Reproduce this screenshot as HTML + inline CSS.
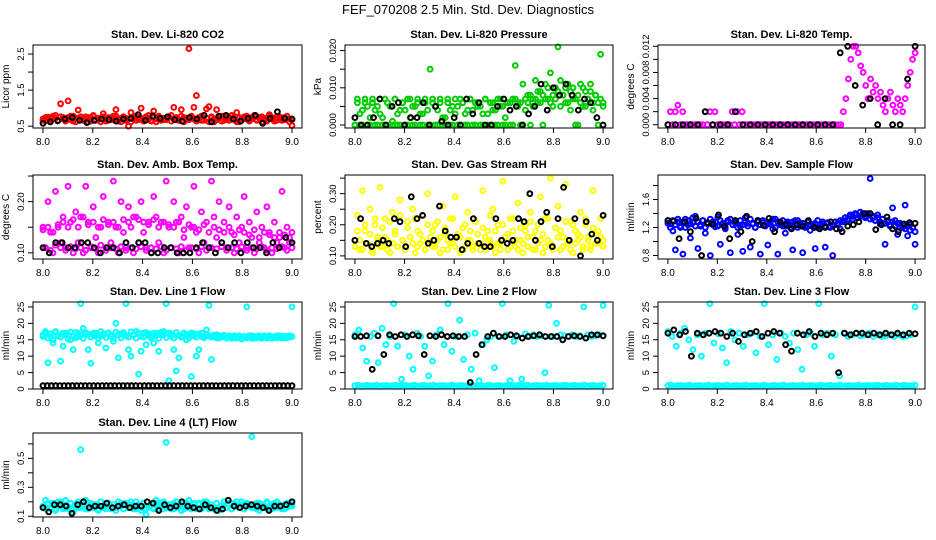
<!DOCTYPE html>
<html><head><meta charset="utf-8"><style>
html,body{margin:0;padding:0;background:#fff;}
svg{display:block;font-family:"Liberation Sans",sans-serif;}
</style></head><body>
<svg id="chart" width="936" height="540" viewBox="0 0 936 540">
<text x="468" y="14" text-anchor="middle" font-size="13">FEF_070208  2.5 Min. Std. Dev. Diagnostics</text>
</svg>
<script>
const xTicks = [8.0, 8.2, 8.4, 8.6, 8.8, 9.0];
const xTickLabels = ["8.0", "8.2", "8.4", "8.6", "8.8", "9.0"];

const co2Color = [0.70,0.65,0.75,0.68,0.72,0.80,0.66,1.12,0.74,0.70,1.20,0.78,0.64,0.72,0.95,0.70,0.68,0.76,0.62,0.74,0.80,0.66,0.72,0.70,0.85,0.64,0.74,0.68,0.78,0.96,0.70,0.62,0.76,0.72,0.50,0.88,0.70,0.66,0.74,1.00,0.68,0.72,0.80,0.64,0.92,0.70,0.76,0.66,0.72,0.68,0.74,0.80,1.02,0.70,0.66,0.96,0.74,0.72,2.65,0.78,1.02,1.35,0.70,0.66,0.80,0.98,1.04,0.74,0.62,0.96,0.72,0.78,0.66,0.70,0.74,0.80,0.68,0.88,0.62,0.72,0.76,0.70,0.66,0.74,0.80,0.68,0.72,0.76,0.70,0.64,0.82,0.74,0.70,0.66,0.76,0.72,0.68,0.78,0.70,0.52];
const co2Band = [0.66,0.74,0.70,0.62,0.78,0.72,0.66,0.76,0.70,0.64,0.74,0.68,0.78,0.62,0.72,0.76,0.66,0.70,0.74,0.64,0.78,0.68,0.72,0.62,0.76,0.70,0.66,0.74,0.68,0.78,0.64,0.72,0.76,0.66,0.70,0.62,0.74,0.78,0.68,0.72,0.64,0.76,0.70,0.66,0.74,0.62,0.78,0.70,0.68,0.72,0.76,0.64,0.70,0.74,0.66,0.78,0.62,0.72,0.68,0.76,0.70,0.64,0.74,0.78,0.66,0.72,0.62,0.76,0.70,0.68,0.74,0.64,0.78,0.72,0.66,0.70,0.76,0.62,0.74,0.68,0.72,0.78,0.64,0.70,0.76,0.66,0.74,0.62,0.72,0.68,0.78,0.70,0.64,0.76,0.72,0.66,0.74,0.70,0.62,0.68];
const co2Black = [0.58,0.62,0.65,0.70,0.74,0.66,0.60,0.66,0.70,0.68,0.64,0.70,0.72,0.82,0.66,0.78,0.72,0.76,0.68,0.64,0.74,0.70,0.80,0.62,0.78,0.80,0.70,0.64,0.72,0.80,0.58,0.72,0.90,0.72,0.70];

const presColor = [0,0.007,0,0.004,0.006,0,0.002,0.007,0,0.005,0.003,0,0.007,0.006,0,0.001,0.007,0,0.004,0.006,0,0.007,0.002,0,0.005,0.007,0,0.003,0.006,0,0.015,0.007,0,0.004,0.006,0,0.002,0.007,0,0.005,0.003,0,0.007,0.006,0,0.004,0.007,0,0.006,0.005,0,0.003,0.007,0,0.006,0.004,0,0.007,0.005,0,0.002,0.006,0,0.007,0.016,0.006,0,0.011,0.004,0.008,0,0.007,0.012,0.006,0.009,0,0.011,0.007,0.014,0.005,0.010,0.021,0.012,0.008,0.006,0.011,0.004,0.010,0.007,0,0.011,0.005,0.009,0.007,0.011,0.004,0.008,0.006,0.019,0.005];
const presBand = [0,0.006,0.003,0,0.007,0.005,0,0.006,0.004,0,0.007,0.002,0,0.006,0.005,0,0.007,0.003,0,0.006,0.004,0,0.007,0.005,0,0.006,0.003,0,0.007,0.004,0,0.006,0.005,0,0.007,0.002,0,0.006,0.004,0,0.007,0.005,0,0.006,0.003,0,0.007,0.004,0,0.006,0.005,0,0.007,0.003,0,0.006,0.004,0,0.007,0.005,0,0.006,0.006,0,0.007,0.005,0.006,0,0.007,0.006,0.008,0.005,0.007,0.009,0.006,0.008,0.007,0.010,0.006,0.008,0.007,0.009,0.005,0.008,0.010,0.006,0.009,0.007,0,0.008,0.006,0.010,0.005,0.007,0.009,0.006,0.008,0,0.007,0.006];
const presBlack = [0.002,0,0,0.002,0.007,0,0.005,0.006,0,0.002,0.002,0.006,0,0.005,0.001,0,0.002,0,0.007,0.003,0.006,0,0,0.005,0.007,0.004,0.005,0,0.003,0.005,0.011,0.004,0.010,0.008,0.011,0.008,0.004,0.007,0.006,0.002,0];

const tempColor = [0,0.002,0,0.002,0.003,0,0.002,0,0,0,0,0,0,0,0,0.002,0,0.002,0,0.002,0,0,0,0,0,0,0.002,0,0.002,0,0.002,0,0,0,0,0,0,0,0,0,0,0,0,0,0,0,0,0,0,0,0,0,0,0,0,0,0,0,0,0,0,0,0,0,0,0,0,0,0,0,0,0.002,0.004,0.007,0.010,0.012,0.012,0.011,0.009,0.008,0.006,0.004,0.007,0.005,0.006,0.004,0.005,0.003,0.002,0.004,0.005,0.003,0.002,0.004,0.003,0.002,0.004,0.006,0.008,0.010,0.011];
const tempBlack = [0,0,0,0,0,0.002,0,0,0,0.002,0,0,0,0,0,0,0,0,0,0,0,0,0,0.011,0.012,0.006,0.003,0.004,0,0.004,0,0,0.007,0.012];

const ambColor = [0.15,0.11,0.20,0.14,0.10,0.22,0.15,0.12,0.17,0.11,0.23,0.16,0.10,0.18,0.12,0.17,0.10,0.23,0.16,0.11,0.19,0.13,0.10,0.15,0.21,0.11,0.16,0.12,0.24,0.15,0.10,0.20,0.14,0.11,0.19,0.15,0.10,0.17,0.12,0.20,0.14,0.11,0.16,0.10,0.21,0.17,0.12,0.16,0.10,0.24,0.15,0.11,0.20,0.16,0.10,0.17,0.13,0.19,0.11,0.15,0.23,0.14,0.10,0.18,0.12,0.16,0.11,0.24,0.17,0.13,0.20,0.12,0.16,0.11,0.19,0.14,0.10,0.17,0.12,0.15,0.21,0.11,0.16,0.13,0.10,0.18,0.12,0.15,0.11,0.19,0.14,0.10,0.16,0.12,0.13,0.22,0.11,0.15,0.12,0.14];
const ambBand = [0.145,0.110,0.150,0.105,0.140,0.115,0.155,0.110,0.160,0.105,0.150,0.112,0.165,0.108,0.150,0.110,0.170,0.105,0.155,0.112,0.160,0.108,0.150,0.115,0.165,0.105,0.155,0.110,0.160,0.108,0.150,0.112,0.165,0.105,0.160,0.110,0.170,0.108,0.165,0.112,0.160,0.105,0.155,0.110,0.165,0.108,0.150,0.112,0.160,0.105,0.155,0.110,0.150,0.108,0.160,0.112,0.145,0.105,0.155,0.110,0.150,0.108,0.145,0.112,0.155,0.105,0.140,0.110,0.150,0.108,0.145,0.112,0.140,0.105,0.150,0.110,0.135,0.108,0.145,0.112,0.140,0.105,0.135,0.110,0.145,0.108,0.130,0.112,0.140,0.105,0.135,0.110,0.130,0.108,0.140,0.112,0.135,0.105,0.130,0.110];
const ambBlack = [0.11,0.10,0.12,0.12,0.11,0.11,0.12,0.12,0.11,0.10,0.11,0.11,0.10,0.12,0.11,0.12,0.12,0.10,0.10,0.11,0.11,0.10,0.10,0.10,0.11,0.12,0.11,0.10,0.12,0.11,0.12,0.10,0.12,0.11,0.11,0.10,0.12,0.11,0.13,0.12];

const rhColor = [0.15,0.23,0.12,0.31,0.18,0.14,0.25,0.11,0.20,0.16,0.32,0.13,0.22,0.15,0.11,0.24,0.17,0.13,0.28,0.15,0.12,0.21,0.16,0.25,0.11,0.18,0.14,0.23,0.12,0.30,0.16,0.13,0.20,0.15,0.11,0.26,0.17,0.12,0.22,0.14,0.29,0.16,0.11,0.19,0.13,0.24,0.15,0.12,0.21,0.17,0.14,0.31,0.12,0.18,0.15,0.25,0.11,0.20,0.14,0.34,0.16,0.12,0.22,0.18,0.13,0.27,0.15,0.11,0.20,0.16,0.24,0.12,0.18,0.14,0.29,0.11,0.22,0.15,0.35,0.13,0.19,0.26,0.12,0.16,0.33,0.14,0.21,0.11,0.18,0.15,0.24,0.12,0.20,0.16,0.13,0.31,0.17,0.14,0.22,0.15];
const rhBand = [0.13,0.18,0.15,0.12,0.20,0.14,0.17,0.12,0.22,0.15,0.13,0.19,0.16,0.12,0.21,0.14,0.18,0.13,0.23,0.15,0.12,0.19,0.16,0.14,0.22,0.13,0.17,0.15,0.12,0.20,0.14,0.18,0.13,0.21,0.16,0.12,0.19,0.15,0.14,0.22,0.13,0.17,0.16,0.12,0.20,0.15,0.18,0.13,0.21,0.14,0.12,0.19,0.16,0.15,0.23,0.13,0.18,0.14,0.12,0.20,0.16,0.17,0.13,0.22,0.15,0.12,0.19,0.14,0.18,0.13,0.21,0.16,0.12,0.20,0.15,0.17,0.13,0.22,0.14,0.12,0.19,0.16,0.18,0.13,0.21,0.15,0.12,0.20,0.14,0.17,0.16,0.13,0.22,0.15,0.12,0.19,0.14,0.18,0.16,0.13];
const rhBlack = [0.15,0.22,0.14,0.13,0.14,0.15,0.14,0.22,0.21,0.13,0.29,0.22,0.23,0.14,0.15,0.26,0.18,0.16,0.16,0.12,0.14,0.22,0.14,0.13,0.13,0.22,0.15,0.14,0.15,0.22,0.21,0.30,0.15,0.21,0.24,0.13,0.22,0.32,0.15,0.22,0.10,0.21,0.17,0.15,0.23];

const flowColor = [1.30,1.25,1.15,0.88,1.28,1.20,0.82,1.32,1.24,1.05,1.27,1.36,0.90,1.22,1.30,1.12,1.25,0.80,1.28,1.21,1.35,0.96,1.26,1.18,1.30,0.84,1.24,1.28,1.10,1.22,0.86,1.34,1.26,0.92,1.25,1.20,1.30,0.82,1.27,1.23,0.95,1.28,1.18,1.32,0.82,1.26,1.22,1.12,1.28,1.24,0.88,1.30,1.20,1.26,0.84,1.22,1.28,1.16,1.24,0.90,1.30,1.20,1.25,0.92,1.27,1.22,0.80,1.28,1.24,1.18,1.30,1.34,1.32,1.38,1.36,1.40,1.34,1.42,1.38,1.36,1.40,1.90,1.34,1.30,1.38,1.25,1.32,0.96,1.28,1.22,1.48,1.30,1.10,1.26,1.20,1.52,1.08,1.24,1.20,0.96];
const flowBand = [1.26,1.20,1.30,1.24,1.32,1.22,1.28,1.20,1.30,1.25,1.34,1.22,1.28,1.24,1.30,1.20,1.27,1.32,1.24,1.28,1.22,1.30,1.25,1.20,1.28,1.32,1.24,1.26,1.20,1.30,1.24,1.28,1.22,1.32,1.26,1.20,1.28,1.24,1.30,1.22,1.27,1.25,1.32,1.20,1.28,1.24,1.30,1.22,1.26,1.20,1.28,1.24,1.30,1.22,1.26,1.20,1.28,1.24,1.22,1.26,1.20,1.24,1.28,1.22,1.26,1.20,1.24,1.28,1.26,1.30,1.28,1.34,1.30,1.36,1.32,1.38,1.34,1.36,1.40,1.34,1.38,1.32,1.36,1.30,1.34,1.28,1.32,1.26,1.30,1.24,1.28,1.22,1.26,1.20,1.24,1.18,1.22,1.16,1.20,1.14];
const flowBlack = [1.30,1.29,1.04,1.28,1.14,1.33,0.80,1.27,1.25,1.38,1.22,1.04,1.30,1.14,1.36,1.00,1.30,1.23,1.33,1.14,1.28,1.24,1.18,1.24,1.22,1.30,1.20,1.18,1.20,1.28,1.18,1.14,1.22,1.24,1.28,1.40,1.40,1.17,1.24,1.35,1.18,1.14,1.25,1.27,1.26];

const line1Color = [16.5,17.0,8.0,16.0,14.0,17.5,16.2,8.5,13.0,17.0,16.5,15.0,12.0,17.2,16.0,26.0,18.5,16.8,12.0,7.8,16.5,17.0,14.0,16.2,16.8,12.5,17.0,16.5,14.5,20.0,9.5,16.8,17.2,26.0,12.0,10.0,16.5,17.5,4.5,11.5,17.0,13.5,16.8,16.2,14.0,17.0,11.5,16.5,17.5,26.0,2.5,16.8,12.0,5.5,9.5,16.0,17.0,15.0,16.5,3.8,16.8,10.0,12.0,17.0,16.0,18.0,25.5,9.0,16.0,16.5,15.5,16.0,16.2,15.5,16.0,15.8,16.2,15.5,16.0,15.2,16.0,25.0,15.8,16.2,15.5,16.0,15.8,15.5,16.2,15.8,16.0,15.5,15.8,16.2,15.8,16.0,15.6,16.0,15.8,25.0];
const line1Band = [16.0,17.5,15.5,16.8,15.0,17.2,16.2,15.8,17.0,16.5,15.2,17.4,16.0,15.6,17.0,16.4,15.4,17.2,16.6,15.8,17.0,16.2,15.5,17.5,16.4,15.7,17.1,16.0,15.4,17.3,16.5,15.6,17.0,16.2,15.8,17.4,16.6,15.5,17.0,16.0,15.8,17.2,16.4,15.6,17.0,16.2,15.4,17.3,16.5,15.7,17.0,16.1,15.5,17.2,16.3,15.8,17.0,16.6,15.6,17.1,16.2,15.8,16.8,16.0,15.6,16.6,16.2,15.8,16.4,15.6,16.2,15.8,16.4,15.6,16.2,15.4,16.0,15.6,16.2,15.4,16.0,15.6,16.2,15.4,16.0,15.6,16.2,15.4,16.0,15.6,16.2,15.4,16.0,15.6,16.2,15.5,16.0,15.6,16.2,16.0];
const line1Black = [1,1,1,1,1,1,1,1,1,1,1,1,1,1,1,1,1,1,1,1,1,1,1,1,1,1,1,1,1,1,1,1,1,1,1,1,1,1,1,1,1,1,1,1,1,1,1,1,1,1,1,1,1,1,1,1,1,1,1,1];

const line2Color = [16.5,18.0,12.5,8.5,16.0,17.0,8.0,18.5,13.5,16.0,26.0,13.0,3.0,16.5,10.0,6.0,17.0,16.0,13.0,4.0,8.5,16.5,18.0,13.5,26.0,11.5,16.0,21.0,9.0,16.5,6.0,17.0,2.5,13.5,15.0,16.0,6.5,16.0,26.0,16.5,2.5,14.5,16.0,3.0,16.8,16.0,16.5,16.0,16.2,5.0,25.5,16.0,20.0,16.5,16.2,16.0,16.5,16.0,16.2,25.0,16.5,16.0,16.2,16.5,25.5];
const line2Base = [1.0,1.2,0.8,1.0,1.1,0.9,1.0,1.2,0.8,1.0,1.1,0.9,1.0,1.2,0.8,1.0,1.1,0.9,1.0,1.2,0.8,1.0,1.1,0.9,1.0,1.2,0.8,1.0,1.1,0.9,1.0,1.2,0.8,1.0,1.1,0.9,1.0,1.2,0.8,1.0,1.1,0.9,1.0,1.2,0.8,1.0,1.1,0.9,1.0,1.2,0.8,1.0,1.1,0.9,1.0,1.2,0.8,1.0,1.1,0.9,1.0,1.2,0.8,1.0,1.1,0.9,1.0,1.2,0.8,1.0,1.1,0.9,1.0,1.2,0.8,1.0,1.1,0.9,1.0,1.2];
const line2Black = [16.0,16.0,16.2,6.0,16.2,10.5,16.5,16.0,16.5,16.0,16.5,16.2,10.5,16.2,16.0,16.5,16.0,16.2,16.0,16.0,2.0,10.5,13.5,16.0,17.0,16.0,16.0,16.5,16.2,15.5,16.0,16.2,16.5,16.0,16.0,16.0,15.0,16.0,16.2,16.0,15.5,16.5,16.5,16.2];

const line3Color = [17.5,16.0,13.0,17.0,18.5,15.0,12.0,16.5,10.0,17.0,26.0,14.0,16.8,12.5,8.0,17.5,15.0,17.0,13.0,16.5,17.0,11.0,16.0,26.0,13.5,16.5,9.0,17.0,16.0,14.0,17.0,12.0,6.0,16.5,17.0,13.0,26.0,16.5,17.0,10.0,16.5,4.0,17.0,16.0,16.5,17.0,16.2,16.5,17.0,16.0,16.5,16.0,16.2,16.5,16.0,16.5,16.0,16.2,16.5,25.0];
const line3Base = [1.0,1.2,0.8,1.0,1.1,0.9,1.0,1.2,0.8,1.0,1.1,0.9,1.0,1.2,0.8,1.0,1.1,0.9,1.0,1.2,0.8,1.0,1.1,0.9,1.0,1.2,0.8,1.0,1.1,0.9,1.0,1.2,0.8,1.0,1.1,0.9,1.0,1.2,0.8,1.0,1.1,0.9,1.0,1.2,0.8,1.0,1.1,0.9,1.0,1.2,0.8,1.0,1.1,0.9,1.0,1.2,0.8,1.0,1.1,0.9,1.0,1.2,0.8,1.0,1.1,0.9,1.0,1.2,0.8,1.0,1.1,0.9,1.0,1.2,0.8,1.0,1.1,0.9,1.0,1.2];
const line3Black = [17.0,18.0,16.5,17.5,10.0,17.0,16.5,17.0,17.5,17.0,16.0,17.0,14.5,16.5,17.0,17.5,16.0,17.0,17.5,17.0,13.5,11.5,17.0,16.5,17.5,16.0,17.0,16.5,17.0,5.0,17.0,16.5,17.0,17.0,16.5,17.0,16.5,17.0,16.5,17.0,16.5,17.0,16.8];

const line4Color = [0.16,0.21,0.18,0.15,0.19,0.14,0.17,0.20,0.16,0.21,0.15,0.19,0.13,0.18,0.16,0.56,0.17,0.21,0.15,0.19,0.16,0.18,0.14,0.20,0.17,0.15,0.19,0.16,0.18,0.14,0.20,0.17,0.15,0.19,0.16,0.18,0.15,0.20,0.17,0.14,0.19,0.11,0.16,0.18,0.15,0.21,0.17,0.19,0.15,0.61,0.16,0.18,0.15,0.20,0.17,0.14,0.19,0.16,0.21,0.15,0.18,0.16,0.19,0.15,0.17,0.20,0.16,0.18,0.15,0.19,0.14,0.17,0.20,0.16,0.18,0.15,0.19,0.17,0.16,0.20,0.15,0.18,0.17,0.65,0.16,0.19,0.14,0.18,0.16,0.20,0.17,0.15,0.19,0.16,0.18,0.17,0.15,0.19,0.17,0.18];
const line4Band = [0.17,0.15,0.19,0.16,0.18,0.15,0.20,0.17,0.15,0.18,0.16,0.19,0.15,0.17,0.20,0.16,0.18,0.15,0.19,0.17,0.16,0.18,0.15,0.20,0.16,0.17,0.19,0.15,0.18,0.16,0.17,0.19,0.15,0.18,0.16,0.20,0.17,0.15,0.18,0.16,0.19,0.15,0.17,0.18,0.16,0.19,0.15,0.17,0.20,0.16,0.18,0.15,0.19,0.17,0.16,0.18,0.15,0.19,0.16,0.17,0.19,0.15,0.18,0.16,0.20,0.17,0.15,0.18,0.16,0.19,0.15,0.17,0.18,0.16,0.19,0.15,0.17,0.20,0.16,0.18,0.15,0.19,0.17,0.16,0.18,0.15,0.19,0.16,0.17,0.19,0.15,0.18,0.16,0.20,0.17,0.15,0.18,0.16,0.19,0.17];
const line4Black = [0.16,0.13,0.18,0.18,0.17,0.12,0.18,0.20,0.16,0.17,0.17,0.19,0.16,0.17,0.18,0.16,0.17,0.17,0.20,0.19,0.14,0.18,0.16,0.17,0.20,0.17,0.16,0.15,0.18,0.16,0.14,0.15,0.21,0.17,0.16,0.17,0.18,0.17,0.16,0.14,0.17,0.17,0.18,0.20];

const svg = document.getElementById('chart');
const NS = 'http://www.w3.org/2000/svg';
function mk(tag, attrs, parent) {
  const e = document.createElementNS(NS, tag);
  for (const k in attrs) e.setAttribute(k, attrs[k]);
  parent.appendChild(e);
  return e;
}

const panels = [
  {title:'Stan. Dev. Li-820 CO2', ylab:'Licor ppm', box:[33,45,302,128], ylim:[0.45,2.75], ticks:[0.5,1,1.5,2,2.5], labs:{'0.5':'0.5','1.5':'1.5','2.5':'2.5'}, series:[[co2Band,'#ff0000'],[co2Color,'#ff0000'],[co2Black,'#000']]},
  {title:'Stan. Dev. Li-820 Pressure', ylab:'kPa', box:[345,45,613,128], ylim:[-0.0008,0.0215], ticks:[0,0.005,0.01,0.015,0.02], labs:{'0':'0.000','0.01':'0.010','0.02':'0.020'}, series:[[presBand,'#00cc00'],[presColor,'#00cc00'],[presBlack,'#000']]},
  {title:'Stan. Dev. Li-820 Temp.', ylab:'degrees C', box:[658,45,925,128], ylim:[-0.0005,0.0122], ticks:[0,0.002,0.004,0.006,0.008,0.01,0.012], labs:{'0':'0.000','0.004':'0.004','0.008':'0.008','0.012':'0.012'}, series:[[tempColor,'#ff00ff'],[tempBlack,'#000']]},
  {title:'Stan. Dev. Amb. Box Temp.', ylab:'degrees C', box:[33,175,302,259], ylim:[0.088,0.252], ticks:[0.1,0.15,0.2,0.25], labs:{'0.1':'0.10','0.2':'0.20'}, series:[[ambBand,'#ff00ff'],[ambColor,'#ff00ff'],[ambBlack,'#000']]},
  {title:'Stan. Dev. Gas Stream RH', ylab:'percent', box:[345,175,613,259], ylim:[0.09,0.36], ticks:[0.1,0.15,0.2,0.25,0.3,0.35], labs:{'0.1':'0.10','0.2':'0.20','0.3':'0.30'}, series:[[rhBand,'#ffff00'],[rhColor,'#ffff00'],[rhBlack,'#000']]},
  {title:'Stan. Dev. Sample Flow', ylab:'ml/min', box:[658,175,925,259], ylim:[0.75,1.95], ticks:[0.8,1,1.2,1.4,1.6,1.8], labs:{'0.8':'0.8','1.2':'1.2','1.6':'1.6'}, series:[[flowBand,'#0000ff'],[flowColor,'#0000ff'],[flowBlack,'#000']]},
  {title:'Stan. Dev. Line 1 Flow', ylab:'ml/min', box:[33,302,302,389], ylim:[0,26.5], ticks:[0,5,10,15,20,25], labs:{'0':'0','5':'5','10':'10','15':'15','20':'20','25':'25'}, series:[[line1Band,'#00ffff'],[line1Color,'#00ffff'],[line1Black,'#000']]},
  {title:'Stan. Dev. Line 2 Flow', ylab:'ml/min', box:[345,302,613,389], ylim:[0,26.5], ticks:[0,5,10,15,20,25], labs:{'0':'0','5':'5','10':'10','15':'15','20':'20','25':'25'}, series:[[line2Base,'#00ffff'],[line2Color,'#00ffff'],[line2Black,'#000']]},
  {title:'Stan. Dev. Line 3 Flow', ylab:'ml/min', box:[658,302,925,389], ylim:[0,26.5], ticks:[0,5,10,15,20,25], labs:{'0':'0','5':'5','10':'10','15':'15','20':'20','25':'25'}, series:[[line3Base,'#00ffff'],[line3Color,'#00ffff'],[line3Black,'#000']]},
  {title:'Stan. Dev. Line 4 (LT) Flow', ylab:'ml/min', box:[33,433,302,517], ylim:[0.095,0.675], ticks:[0.1,0.2,0.3,0.4,0.5,0.6], labs:{'0.1':'0.1','0.3':'0.3','0.5':'0.5'}, series:[[line4Band,'#00ffff'],[line4Color,'#00ffff'],[line4Black,'#000']]}
];

panels.forEach((p, pi) => {
  const [x0,y0,x1,y1] = p.box;
  const g = mk('g', {}, svg);
  
  
  const w = x1 - x0, span = 1.0, pad = 0.04 * span;
  const xs = v => x0 + (v - (8 - pad)) / (span + 2*pad) * w;
  const ys = v => y1 - (v - p.ylim[0]) / (p.ylim[1] - p.ylim[0]) * (y1 - y0);
  const t = mk('text', {x:(x0+x1)/2, y:y0-7, 'text-anchor':'middle', 'font-size':'11', 'font-weight':'bold'}, g);
  t.textContent = p.title;
  
  
  p.series.forEach((s, si) => {
    const vals = s[0], col = s[1];
    const sg = mk('g', {fill:'none', stroke:col, 'stroke-width':'2'}, g);
    
    
    const n = vals.length;
    vals.forEach((v, i) => {
      const tx = 8 + i / (n - 1);
      const c = mk('circle', {cx:xs(tx).toFixed(1), cy:ys(v).toFixed(1), r:'2.4'}, sg);
      
      
    });
  });
  const box = mk('rect', {x:x0, y:y0, width:w, height:y1-y0, fill:'none', stroke:'#000', 'stroke-width':'1'}, g);
  
  
  const xa = mk('g', {stroke:'#000', 'stroke-width':'1'}, g);
  
  
  xTicks.forEach((v, i) => {
    const x = xs(v);
    mk('line', {x1:x, x2:x, y1:y1, y2:y1+5}, xa);
    const tl = mk('text', {x:x, y:y1+17, 'text-anchor':'middle', 'font-size':'10', stroke:'none', fill:'#000'}, xa);
    tl.textContent = xTickLabels[i];
    
    
  });
  const ya = mk('g', {stroke:'#000', 'stroke-width':'1'}, g);
  
  
  p.ticks.forEach(v => {
    const y = ys(v);
    mk('line', {x1:x0-5, x2:x0, y1:y, y2:y}, ya);
    const key = String(v);
    if (p.labs[key] !== undefined) {
      const lx = x0 - 9;
      const tl = mk('text', {x:lx, y:y, 'text-anchor':'middle', 'font-size':'9.5', stroke:'none', fill:'#000', transform:'rotate(-90 '+lx+' '+y+')'}, ya);
      tl.textContent = p.labs[key];
      
      
    }
  });
  const lx = x0 - 24, ly = (y0 + y1) / 2;
  const yt = mk('text', {x:lx, y:ly, 'text-anchor':'middle', 'font-size':'10', transform:'rotate(-90 '+lx+' '+ly+')'}, g);
  yt.textContent = p.ylab;
  
  
});
</script>
</body></html>
